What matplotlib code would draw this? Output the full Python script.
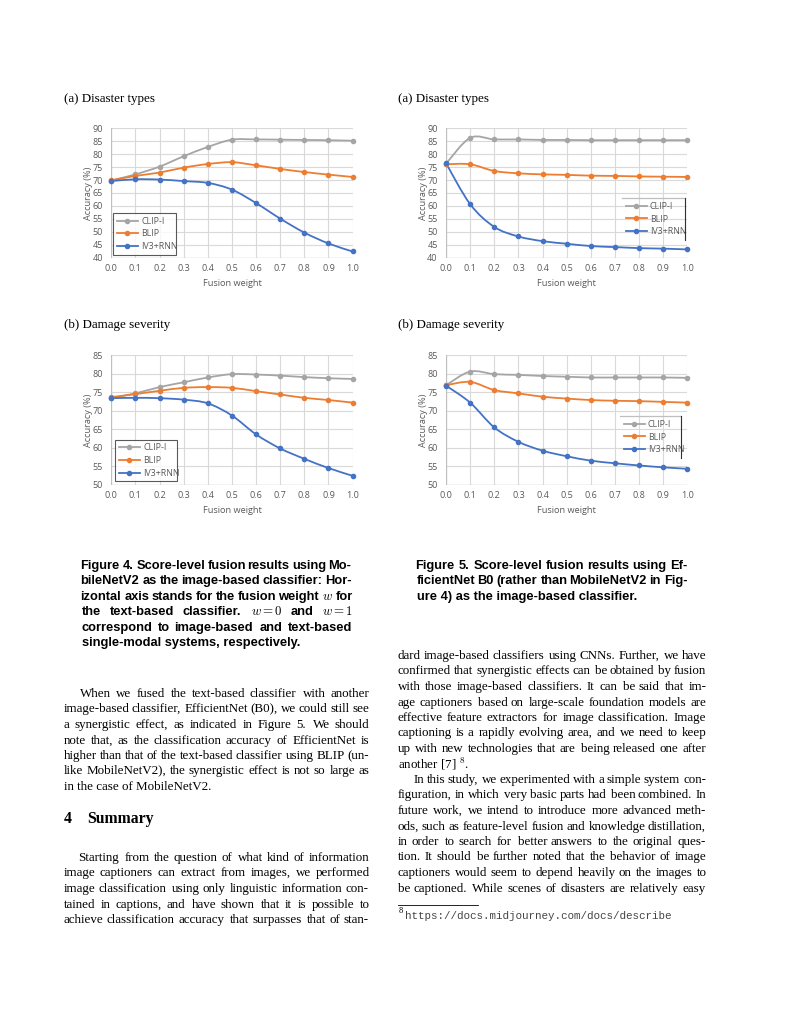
import re
import math
import numpy as np
import matplotlib
matplotlib.use('Agg')
import matplotlib.pyplot as plt
from matplotlib.path import Path
from matplotlib.patches import PathPatch
from matplotlib.lines import Line2D
from matplotlib.backends.backend_agg import get_hinting_flag

plt.rcParams['mathtext.fontset'] = 'cm'

# ---- data ----
weights = [0.0, 0.1, 0.2, 0.3, 0.4, 0.5, 0.6, 0.7, 0.8, 0.9, 1.0]
series_names = ['CLIP-I', 'BLIP', 'IV3+RNN']

# Figure 4 (MobileNetV2), disaster types
mob_types_clip = [69.8, 72.2, 75.2, 79.2, 82.8, 85.6, 85.7, 85.6, 85.5, 85.4, 85.2]
mob_types_blip = [69.9, 71.6, 72.9, 74.8, 76.2, 76.9, 75.7, 74.3, 73.1, 72.1, 71.2]
mob_types_iv3 = [69.6, 70.3, 70.2, 69.6, 68.9, 66.3, 61.1, 55.1, 49.7, 45.5, 42.4]

# Figure 4 (MobileNetV2), damage severity
mob_sev_clip = [73.4, 74.7, 76.4, 77.7, 79.0, 79.9, 79.8, 79.5, 79.1, 78.8, 78.6]
mob_sev_blip = [73.7, 74.5, 75.4, 76.2, 76.4, 76.2, 75.3, 74.4, 73.5, 72.9, 72.2]
mob_sev_iv3 = [73.4, 73.5, 73.4, 73.0, 72.0, 68.7, 63.6, 59.8, 57.0, 54.5, 52.4]

# Figure 5 (EfficientNet B0), disaster types
eff_types_clip = [76.3, 86.3, 85.7, 85.7, 85.5, 85.5, 85.4, 85.4, 85.4, 85.4, 85.4]
eff_types_blip = [76.1, 76.1, 73.5, 72.6, 72.2, 72.0, 71.7, 71.6, 71.4, 71.3, 71.2]
eff_types_iv3 = [76.5, 60.7, 51.9, 48.2, 46.4, 45.4, 44.5, 44.1, 43.7, 43.5, 43.2]

# Figure 5 (EfficientNet B0), damage severity
eff_sev_clip = [76.9, 80.6, 79.9, 79.7, 79.4, 79.2, 79.0, 79.0, 79.0, 79.0, 78.9]
eff_sev_blip = [76.9, 77.8, 75.6, 74.7, 73.8, 73.3, 72.9, 72.7, 72.6, 72.4, 72.2]
eff_sev_iv3 = [76.8, 72.2, 65.5, 61.6, 59.2, 57.7, 56.5, 55.8, 55.2, 54.7, 54.3]

colors = ['#A5A5A5', '#ED7D31', '#4472C4']
txt_gray = '#595959'
grid_gray = '#D9D9D9'

W, H = 791, 1024
fig = plt.figure(figsize=(W / 100, H / 100), dpi=100)
rend = fig.canvas.get_renderer()


def smooth_path(xs, ys):
    # Excel-like smoothed line (bezier through the points)
    pts = np.column_stack([xs, ys])
    n = len(pts)
    verts = [pts[0]]
    codes = [Path.MOVETO]
    for i in range(n - 1):
        p0 = pts[max(i - 1, 0)]
        p1 = pts[i]
        p2 = pts[i + 1]
        p3 = pts[min(i + 2, n - 1)]
        c1 = p1 + (p2 - p0) / 6.0
        c2 = p2 - (p3 - p1) / 6.0
        verts += [c1, c2, p2]
        codes += [Path.CURVE4] * 3
    return Path(verts, codes)


def panel(px_left, px_top, ylim, data, legend_box):
    left = px_left / W
    bottom = 1 - (px_top + 129.4) / H
    ax = fig.add_axes([left, bottom, 241.3 / W, 129.4 / H])
    ax.set_xlim(0, 1)
    ax.set_ylim(*ylim)
    ax.set_xticks(weights)
    ax.set_xticklabels(['%.1f' % w for w in weights])
    ax.set_yticks(np.arange(ylim[0], ylim[1] + 1, 5))
    for s in ax.spines.values():
        s.set_visible(False)
    ax.grid(True, color=grid_gray, linewidth=0.8)
    ax.set_axisbelow(True)
    ax.tick_params(length=0, labelsize=6.5, labelcolor=txt_gray)
    ax.tick_params(axis='x', pad=4.5)
    ax.tick_params(axis='y', pad=6)
    for lab in ax.get_xticklabels() + ax.get_yticklabels():
        lab.set_family('Open Sans')
    ax.axhline(ylim[0], color='#BFBFBF', linewidth=0.9, zorder=1)
    ax.axvline(0, color='#BFBFBF', linewidth=0.9, zorder=1)

    for vals, c in zip(data, colors):
        ax.add_patch(PathPatch(smooth_path(weights, vals), facecolor='none',
                               edgecolor=c, linewidth=1.3, zorder=3, clip_on=False))
        ax.plot(weights, vals, linestyle='none', marker='o', markersize=3,
                color=c, zorder=4, clip_on=False)

    ax.set_xlabel('Fusion weight', fontsize=6.6, color=txt_gray, family='Open Sans')
    ax.xaxis.set_label_coords(0.5, -0.165)
    ax.set_ylabel('Accuracy (%)', fontsize=6.6, color=txt_gray, family='Open Sans')
    ax.yaxis.set_label_coords(-0.075, 0.5)

    handles = [Line2D([], [], color=c, marker='o', markersize=3, linewidth=1.3)
               for c in colors]
    x0, y0, x1, y1 = legend_box
    bx = ((x0 - px_left) / 241.3, (px_top + 129.4 - y1) / 129.4,
          (x1 - x0) / 241.3, (y1 - y0) / 129.4)
    leg = ax.legend(handles, series_names, loc='center left', bbox_to_anchor=bx,
                    mode='expand', borderaxespad=0, fontsize=6.3, handlelength=2.4,
                    labelspacing=0.45, handletextpad=0.4, fancybox=False,
                    borderpad=0.4)
    for t in leg.get_texts():
        t.set_color(txt_gray)
        t.set_family('Open Sans')
    return ax, leg


# panels
ax1, leg1 = panel(111.3, 128.3, (40, 90),
                  [mob_types_clip, mob_types_blip, mob_types_iv3], (113, 213, 176, 255))
leg1.get_frame().set_edgecolor('#303030')
leg1.get_frame().set_linewidth(0.8)

ax2, leg2 = panel(446, 128.3, (40, 90),
                  [eff_types_clip, eff_types_blip, eff_types_iv3], (622, 198, 685, 240))
leg2.set_frame_on(False)

ax3, leg3 = panel(111.3, 355.3, (50, 85),
                  [mob_sev_clip, mob_sev_blip, mob_sev_iv3], (115, 439, 177, 482))
leg3.get_frame().set_edgecolor('#303030')
leg3.get_frame().set_linewidth(0.8)

ax4, leg4 = panel(446, 355.3, (50, 85),
                  [eff_sev_clip, eff_sev_blip, eff_sev_iv3], (620, 416, 681, 458))
leg4.set_frame_on(False)

# partial legend borders (top + right) on the right-hand panels
for (x0, y0, x1, y1) in [(622, 198, 685, 240), (620, 416, 681, 458)]:
    fig.add_artist(Line2D([x0 / W, x1 / W], [1 - y0 / H, 1 - y0 / H],
                          color='#BFBFBF', linewidth=0.9))
    fig.add_artist(Line2D([x1 / W, x1 / W], [1 - y0 / H, 1 - y1 / H],
                          color='#303030', linewidth=0.8))

# ---- page text ----
serif = dict(family='Liberation Serif', fontsize=9.4, color='black')
capfont = dict(family='Liberation Sans', fontsize=9.3, weight='bold', color='black')


def fontinfo(s, kw):
    # ink width, plus the offsets agg uses when it rasterises the string
    t = fig.text(0, 0, s, **kw)
    w = t.get_window_extent(rend).width
    info = (w, 0.0, 0.0, 0.0)
    if '$' not in s:
        font = rend._prepare_font(t.get_fontproperties())
        font.set_text(s, 0, flags=get_hinting_flag())
        info = (w, font.get_bitmap_offset()[0] / 64.0,
                font.get_width_height()[1] / 64.0, font.get_descent() / 64.0)
    t.remove()
    return info


def put_word(X, B, s, kw):
    # X: pen origin, B: baseline (pixels from the top)
    if '$' in s:
        fig.text(X / W, 1 - B / H, s, ha='left', va='baseline', **kw)
        return
    w, xo, h, d = fontinfo(s, kw)
    e = round(B + d) - math.floor(h) + math.floor(h - d) - B
    fig.text((X - (xo - math.floor(xo))) / W, 1 - (B - e) / H, s,
             ha='left', va='baseline', **kw)


def text_line(x0, x1, y, s, justify=True, **kw):
    B = round(y + 4)
    if not justify:
        put_word(x0, B, s, kw)
        return
    words = re.findall(r'\$[^$]*\$\S*|\S+', s)
    n = len(words)
    full = fontinfo(' '.join(words), kw)[0]
    extra = (x1 - x0 - full) / max(n - 1, 1)
    for i, w in enumerate(words):
        right = fontinfo(' '.join(words[:i + 1]), kw)[0]
        ww, xo = fontinfo(w, kw)[:2]
        put_word(x0 + right - ww - xo + i * extra, B, w, kw)


def paragraph(x0, x1, y, lines, step, indent=16, last_justified=False, **kw):
    for i, s in enumerate(lines):
        xs = x0 + (indent if i == 0 else 0)
        just = last_justified or i < len(lines) - 1
        text_line(xs, x1, y + i * step, s, justify=just, **kw)


text_line(64, 0, 98, '(a) Disaster types', justify=False, **serif)
text_line(398, 0, 98, '(a) Disaster types', justify=False, **serif)
text_line(64, 0, 324, '(b) Damage severity', justify=False, **serif)
text_line(398, 0, 324, '(b) Damage severity', justify=False, **serif)

cap4 = ['Figure 4. Score-level fusion results using Mo-',
        'bileNetV2 as the image-based classifier: Hor-',
        'izontal axis stands for the fusion weight $w$ for',
        'the text-based classifier.  $w=0$ and $w=1$',
        'correspond to image-based and text-based',
        'single-modal systems, respectively.']
paragraph(82, 353, 565, cap4, 15.4, indent=0, **capfont)

cap5 = ['Figure 5. Score-level fusion results using Ef-',
        'ficientNet B0 (rather than MobileNetV2 in Fig-',
        'ure 4) as the image-based classifier.']
paragraph(417, 689, 565, cap5, 15.4, indent=0, **capfont)

step = 15.5
para1 = ['When we fused the text-based classifier with another',
         'image-based classifier, EfficientNet (B0), we could still see',
         'a synergistic effect, as indicated in Figure 5.  We should',
         'note that, as the classification accuracy of EfficientNet is',
         'higher than that of the text-based classifier using BLIP (un-',
         'like MobileNetV2), the synergistic effect is not so large as',
         'in the case of MobileNetV2.']
paragraph(64, 370, 693, para1, step, **serif)

head = dict(family='Liberation Serif', fontsize=11.3, weight='bold', color='black')
text_line(64, 0, 819, '4', justify=False, **head)
text_line(88, 0, 819, 'Summary', justify=False, **head)

para2 = ['Starting from the question of what kind of information',
         'image captioners can extract from images, we performed',
         'image classification using only linguistic information con-',
         'tained in captions, and have shown that it is possible to',
         'achieve classification accuracy that surpasses that of stan-']
paragraph(64, 370, 857, para2, step, last_justified=True, **serif)

para3 = ['dard image-based classifiers using CNNs. Further, we have',
         'confirmed that synergistic effects can be obtained by fusion',
         'with those image-based classifiers.  It can be said that im-',
         'age captioners based on large-scale foundation models are',
         'effective feature extractors for image classification.  Image',
         'captioning is a rapidly evolving area, and we need to keep',
         'up with new technologies that are being released one after',
         'another [7] $^{8}$.']
paragraph(398, 707, 655, para3, step, indent=0, **serif)

para4 = ['In this study, we experimented with a simple system con-',
         'figuration, in which very basic parts had been combined.  In',
         'future work, we intend to introduce more advanced meth-',
         'ods, such as feature-level fusion and knowledge distillation,',
         'in order to search for better answers to the original ques-',
         'tion. It should be further noted that the behavior of image',
         'captioners would seem to depend heavily on the images to',
         'be captioned.  While scenes of disasters are relatively easy']
paragraph(398, 707, 655 + 8 * step, para4, step, last_justified=True, **serif)

# footnote
fig.add_artist(Line2D([398 / W, 478 / W], [1 - 905 / H, 1 - 905 / H],
                      color='black', linewidth=0.6))
fig.text(399 / W, 1 - 913 / H, '8', family='Liberation Serif', fontsize=6,
         ha='left', va='baseline')
fig.text(405 / W, 1 - 919 / H, 'https://docs.midjourney.com/docs/describe',
         family='Liberation Mono', fontsize=7.8, color='#444444',
         ha='left', va='baseline')

fig.savefig('out.png', dpi=100)
